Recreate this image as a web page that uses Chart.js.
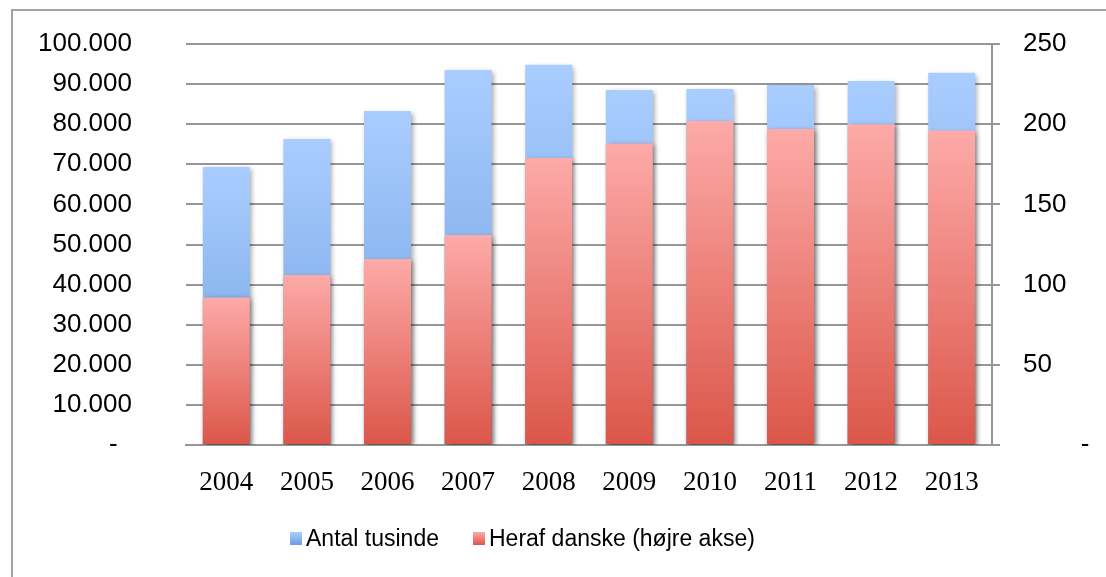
<!DOCTYPE html>
<html>
<head>
<meta charset="utf-8">
<script src="https://cdn.jsdelivr.net/npm/chart.js@4/dist/chart.umd.min.js"></script>
<style>
  html, body { margin: 0; padding: 0; background: #fff; overflow: hidden; }
  #wrap { position: relative; width: 1106px; height: 577px; overflow: hidden; }
  #frame { position: absolute; left: 11px; top: 9px; width: 1300px; height: 800px;
           border-left: 2px solid #a3a3a3; border-top: 2px solid #a3a3a3; box-sizing: border-box; }
  canvas { position: absolute; left: 0; top: 0; }
  #legend { position: absolute; left: 290px; top: 525px; display: flex; align-items: center;
            font-family: "Liberation Sans", Arial, sans-serif; font-size: 23px; color: #000; white-space: nowrap; }
  .item { display: flex; align-items: center; margin-right: 34px; }
  .box { width: 12px; height: 13px; margin-right: 4px; }
</style>
</head>
<body>
<div id="wrap">
  <div id="frame"></div>
  <canvas id="c" width="1106" height="577"></canvas>
  <div id="legend"></div>
</div>
<script>
const years = ['2004','2005','2006','2007','2008','2009','2010','2011','2012','2013'];
const antalTusinde = [69300, 76300, 83300, 93500, 94800, 88500, 88800, 89800, 90800, 92800];
const herafDanske = [92, 106, 116, 131, 179, 188, 202, 197, 200, 196];
const seriesNames = ['Antal tusinde', 'Heraf danske (højre akse)'];

const blueStops = ['#aacdff', '#6a9edd'];
const redStops = ['#fdaaa8', '#db5649'];

function barGradient(stops, solid) {
  return function (ctx) {
    const chart = ctx.chart;
    if (!chart.chartArea || ctx.type !== 'data') return solid;
    const scale = chart.scales[ctx.dataset.yAxisID];
    const top = scale.getPixelForValue(ctx.raw);
    const bot = scale.getPixelForValue(0);
    if (!isFinite(top) || !isFinite(bot) || top === bot) return solid;
    const g = chart.ctx.createLinearGradient(0, top, 0, bot);
    g.addColorStop(0, stops[0]);
    g.addColorStop(1, stops[1]);
    return g;
  };
}

function fmtThousands(v) {
  if (v === 0) return '-\u00a0\u00a0';
  return String(v).replace(/\B(?=(\d{3})+(?!\d))/g, '.');
}

const shadowPlugin = {
  id: 'barShadow',
  beforeDatasetDraw(chart) {
    const c = chart.ctx;
    c.save();
    c.shadowColor = 'rgba(0,0,0,0.35)';
    c.shadowBlur = 5;
    c.shadowOffsetX = 2;
    c.shadowOffsetY = 2;
  },
  afterDatasetDraw(chart) {
    chart.ctx.restore();
  }
};

const gridColor = '#969696';

new Chart(document.getElementById('c'), {
  type: 'bar',
  data: {
    labels: years,
    datasets: [
      {
        label: seriesNames[1],
        data: herafDanske,
        yAxisID: 'y1',
        grouped: false,
        order: 0,
        backgroundColor: barGradient(redStops, '#ee8a82'),
        borderWidth: 0,
        barPercentage: 0.583,
        categoryPercentage: 1
      },
      {
        label: seriesNames[0],
        data: antalTusinde,
        yAxisID: 'y',
        grouped: false,
        order: 1,
        backgroundColor: barGradient(blueStops, '#8fb9f0'),
        borderWidth: 0,
        barPercentage: 0.583,
        categoryPercentage: 1
      }
    ]
  },
  options: {
    responsive: false,
    animation: false,
    layout: { padding: { top: 44, left: 0, right: 0, bottom: 0 } },
    plugins: { legend: { display: false }, tooltip: { enabled: false }, title: { display: false } },
    scales: {
      x: {
        position: 'bottom',
        grid: { display: true, drawOnChartArea: false, drawTicks: false },
        border: { display: true, color: gridColor, width: 2 },
        ticks: { color: '#000', padding: 22, font: { family: '"Liberation Serif", serif', size: 27 } },
        afterFit(s) { s.height = 132; }
      },
      y: {
        position: 'left',
        min: 0, max: 100000,
        grid: { color: gridColor, lineWidth: 2, drawTicks: false },
        border: { display: false },
        ticks: { stepSize: 10000, color: '#000', padding: 54, callback: fmtThousands,
                 font: { family: '"Liberation Sans", Arial, sans-serif', size: 26 } },
        afterFit(s) { s.width = 186; s.paddingTop = 16; s.paddingBottom = 16; }
      },
      y1: {
        position: 'right',
        min: 0, max: 250,
        grid: { drawOnChartArea: false, drawTicks: true, tickLength: 8, color: gridColor, lineWidth: 2 },
        border: { display: true, color: gridColor, width: 2 },
        ticks: { stepSize: 50, color: '#000', padding: 23, align: 'center',
                 callback: v => v === 0 ? '\u00a0\u00a0\u00a0\u00a0\u00a0\u00a0\u00a0\u00a0-' : String(v),
                 font: { family: '"Liberation Sans", Arial, sans-serif', size: 26 } },
        afterFit(s) { s.width = 114; s.paddingTop = 16; s.paddingBottom = 16; }
      }
    }
  },
  plugins: [shadowPlugin]
});

// HTML legend built from the series names
const legend = document.getElementById('legend');
[[seriesNames[0], blueStops], [seriesNames[1], redStops]].forEach(([name, stops]) => {
  const item = document.createElement('div');
  item.className = 'item';
  const box = document.createElement('span');
  box.className = 'box';
  box.style.background = `linear-gradient(${stops[0]}, ${stops[1]})`;
  const txt = document.createElement('span');
  txt.textContent = name;
  item.appendChild(box);
  item.appendChild(txt);
  legend.appendChild(item);
});
</script>
</body>
</html>
